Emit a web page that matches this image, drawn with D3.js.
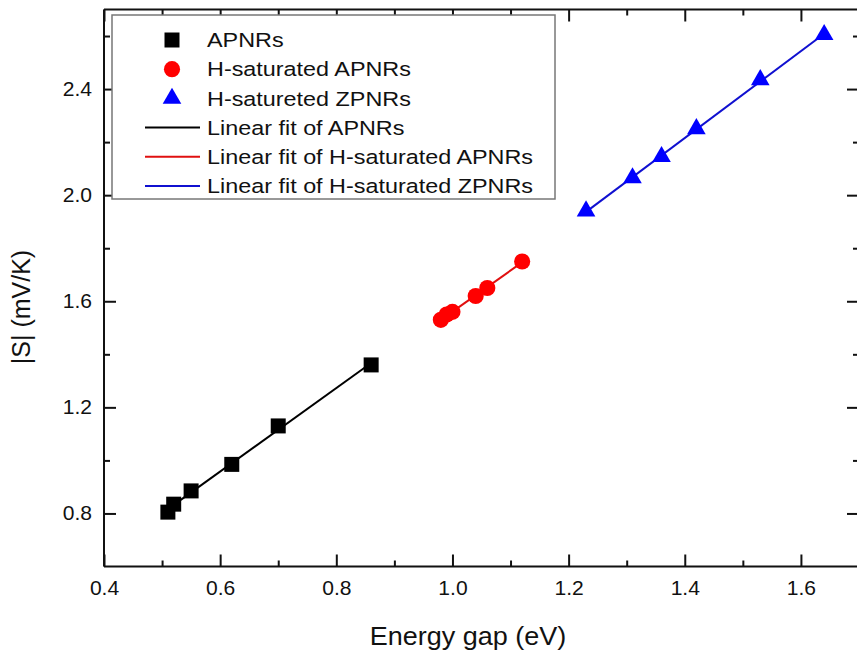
<!DOCTYPE html>
<html>
<head>
<meta charset="utf-8">
<script src="https://cdn.jsdelivr.net/npm/d3@7"></script>
<style>
  body { margin: 0; background: #fff; }
  text { font-family: Arial, "Liberation Sans", sans-serif; fill: #111; }
</style>
</head>
<body>
<div id="chart"></div>
<script>
    // data
    let apnrX = [0.51, 0.52, 0.55, 0.62, 0.70, 0.86]
    let apnrY = [0.805, 0.835, 0.885, 0.985, 1.13, 1.36]

    let hApnrX = [0.98, 0.99, 1.00, 1.04, 1.06, 1.12]
    let hApnrY = [1.53, 1.55, 1.56, 1.62, 1.65, 1.75]

    let hZpnrX = [1.23, 1.31, 1.36, 1.42, 1.53, 1.64]
    let hZpnrY = [1.94, 2.065, 2.145, 2.25, 2.435, 2.605]

    let xTicks = [0.4, 0.6, 0.8, 1.0, 1.2, 1.4, 1.6]
    let xMinor = [0.5, 0.7, 0.9, 1.1, 1.3, 1.5]
    let yTicks = [0.8, 1.2, 1.6, 2.0, 2.4]
    let yMinor = [1.0, 1.4, 1.8, 2.2, 2.6]

    let seriesNames = ["APNRs", "H-saturated APNRs", "H-satureted ZPNRs"]
    let fitNames = ["Linear fit of APNRs", "Linear fit of H-saturated APNRs", "Linear fit of H-saturated ZPNRs"]

    let width = 857, height = 659
    let margin = {top: 9.5, right: -2, bottom: 92.5, left: 104}

    let svg = d3.select("#chart").append("svg")
        .attr("width", width)
        .attr("height", height)

    let x = d3.scaleLinear().domain([0.4, 1.7]).range([margin.left, width - margin.right])
    let y = d3.scaleLinear().domain([0.6, 2.7]).range([height - margin.bottom, margin.top])

    // stretch text a bit wider, the picture is a little stretched horizontally
    function stretch(sel, k) {
        sel.each(function() {
            let w = this.getComputedTextLength()
            d3.select(this).attr("textLength", w * k).attr("lengthAdjust", "spacingAndGlyphs")
        })
    }

    let series = [
        {name: seriesNames[0], xs: apnrX, ys: apnrY, color: "#000", line: "#000", symbol: d3.symbolSquare, size: 225},
        {name: seriesNames[1], xs: hApnrX, ys: hApnrY, color: "#ff0000", line: "#e01010", symbol: d3.symbolCircle, size: 205},
        {name: seriesNames[2], xs: hZpnrX, ys: hZpnrY, color: "#0000ff", line: "#1010d0", symbol: d3.symbolTriangle, size: 150}
    ]

    // least squares fits
    series.forEach(s => {
        let mx = d3.mean(s.xs), my = d3.mean(s.ys)
        let sxy = d3.sum(s.xs, (v, i) => (v - mx) * (s.ys[i] - my))
        let sxx = d3.sum(s.xs, v => (v - mx) * (v - mx))
        let b = sxy / sxx, a = my - b * mx
        let xa = d3.min(s.xs), xb = d3.max(s.xs)
        s.fit = [[xa, a + b * xa], [xb, a + b * xb]]
    })

    // fit lines
    svg.append("g").selectAll("line")
        .data(series)
        .join("line")
        .attr("x1", d => x(d.fit[0][0]))
        .attr("y1", d => y(d.fit[0][1]))
        .attr("x2", d => x(d.fit[1][0]))
        .attr("y2", d => y(d.fit[1][1]))
        .attr("stroke", d => d.line)
        .attr("stroke-width", 2)

    // markers
    series.forEach(s => {
        svg.append("g").selectAll("path")
            .data(s.xs.map((v, i) => [v, s.ys[i]]))
            .join("path")
            .attr("d", d3.symbol().type(s.symbol).size(s.size))
            .attr("transform", d => "translate(" + x(d[0]) + "," + y(d[1]) + ")")
            .attr("fill", s.color)
    })

    // axes, ticks pointing inward
    let xL = x.range()[0], xR = x.range()[1], yB = y.range()[0], yT = y.range()[1]

    let axBottom = svg.append("g").attr("transform", "translate(0," + yB + ")")
        .call(d3.axisBottom(x).tickValues(xTicks).tickSize(-12).tickFormat(d3.format(".1f")).tickPadding(15))
    let axBottomMinor = svg.append("g").attr("transform", "translate(0," + yB + ")")
        .call(d3.axisBottom(x).tickValues(xMinor).tickSize(-6).tickFormat(""))
    let axTop = svg.append("g").attr("transform", "translate(0," + yT + ")")
        .call(d3.axisTop(x).tickValues(xTicks).tickSize(-12).tickFormat(""))
    let axTopMinor = svg.append("g").attr("transform", "translate(0," + yT + ")")
        .call(d3.axisTop(x).tickValues(xMinor).tickSize(-6).tickFormat(""))
    let axLeft = svg.append("g").attr("transform", "translate(" + xL + ",0)")
        .call(d3.axisLeft(y).tickValues(yTicks).tickSize(-12).tickFormat(d3.format(".1f")).tickPadding(12))
    let axLeftMinor = svg.append("g").attr("transform", "translate(" + xL + ",0)")
        .call(d3.axisLeft(y).tickValues(yMinor).tickSize(-6).tickFormat(""))
    let axRight = svg.append("g").attr("transform", "translate(" + xR + ",0)")
        .call(d3.axisRight(y).tickValues(yTicks).tickSize(-12).tickFormat(""))
    let axRightMinor = svg.append("g").attr("transform", "translate(" + xR + ",0)")
        .call(d3.axisRight(y).tickValues(yMinor).tickSize(-6).tickFormat(""))

    svg.selectAll(".tick line").attr("stroke", "#111").attr("stroke-width", 2)
    svg.selectAll(".tick text").style("font-size", "19.5px").attr("fill", "#222")

    // plain frame lines without end caps
    axBottom.select(".domain").attr("d", "M" + xL + ",0H" + xR)
    axTop.select(".domain").attr("d", "M" + xL + ",0H" + xR)
    axLeft.select(".domain").attr("d", "M0," + yB + "V" + yT)
    axRight.select(".domain").attr("d", "M0," + yB + "V" + yT)
    ;[axBottomMinor, axTopMinor, axLeftMinor, axRightMinor].forEach(g => g.select(".domain").remove())
    svg.selectAll(".domain").attr("stroke", "#111").attr("stroke-width", 2)

    axBottom.selectAll(".tick text").call(stretch, 1.08)
    axLeft.selectAll(".tick text").call(stretch, 1.08)

    // axis titles
    svg.append("text")
        .attr("x", 468)
        .attr("y", 645)
        .attr("text-anchor", "middle")
        .style("font-size", "25px")
        .text("Energy gap (eV)")
        .call(stretch, 1.08)

    svg.append("text")
        .attr("transform", "translate(30," + 307 + ") rotate(-90)")
        .attr("text-anchor", "middle")
        .style("font-size", "25px")
        .text("|S| (mV/K)")

    // legend
    let legend = svg.append("g")
    legend.append("rect")
        .attr("x", 112).attr("y", 15)
        .attr("width", 443).attr("height", 184)
        .attr("fill", "#fff")
        .attr("stroke", "#777")
        .attr("stroke-width", 1.5)

    let rowY = i => 40 + i * 29.2

    series.forEach((s, i) => {
        legend.append("path")
            .attr("d", d3.symbol().type(s.symbol).size(s.size))
            .attr("transform", "translate(172," + rowY(i) + ")")
            .attr("fill", s.color)
        legend.append("text")
            .attr("x", 207).attr("y", rowY(i))
            .attr("dy", "0.35em")
            .style("font-size", "20.5px")
            .text(s.name)
            .call(stretch, 1.14)
    })
    series.forEach((s, i) => {
        legend.append("line")
            .attr("x1", 145).attr("x2", 200)
            .attr("y1", rowY(i + 3)).attr("y2", rowY(i + 3))
            .attr("stroke", s.line)
            .attr("stroke-width", 2)
        legend.append("text")
            .attr("x", 207).attr("y", rowY(i + 3))
            .attr("dy", "0.35em")
            .style("font-size", "20.5px")
            .text(fitNames[i])
            .call(stretch, 1.14)
    })
</script>
</body>
</html>
